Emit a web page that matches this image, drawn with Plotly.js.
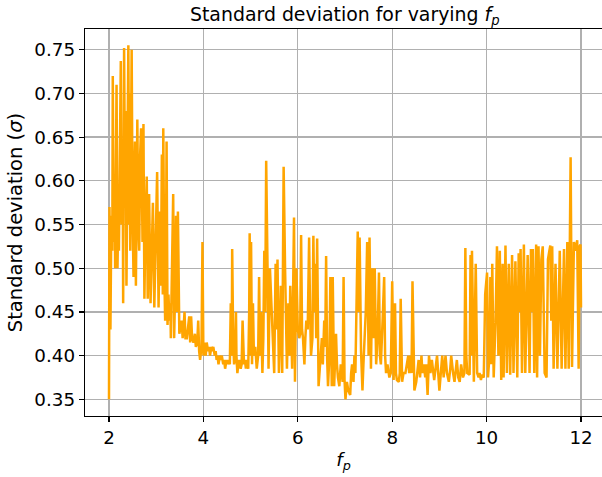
<!DOCTYPE html>
<html>
<head>
<meta charset="utf-8">
<script src="https://cdn.plot.ly/plotly-3.0.1.min.js"></script>
<style>html,body{margin:0;padding:0;background:#fff;}#chart{width:602px;height:477px;}</style>
</head>
<body>
<div id="chart"></div>
<script>
// f_p values (x) and standard deviation values (y)
const fp = [
  2.00,2.01,2.03,2.05,2.07,2.08,2.10,2.12,2.13,2.15,2.16,2.18,2.20,2.21,2.23,2.25,2.27,2.29,2.30,2.32,
  2.34,2.35,2.37,2.39,2.41,2.43,2.44,2.45,2.46,2.48,2.50,2.52,2.54,2.55,2.57,2.58,2.60,2.62,2.64,2.66,
  2.68,2.70,2.71,2.73,2.75,2.77,2.78,2.80,2.82,2.84,2.85,2.88,2.90,2.93,2.96,2.98,3.00,3.02,3.05,3.07,
  3.08,3.10,3.12,3.14,3.15,3.17,3.19,3.21,3.22,3.24,3.26,3.28,3.30,3.31,3.34,3.36,3.38,3.40,3.42,3.44,
  3.46,3.49,3.51,3.54,3.56,3.58,3.60,3.62,3.65,3.67,3.70,3.72,3.74,3.76,3.79,3.82,3.84,3.87,3.89,3.91,
  3.93,3.96,3.98,4.00,
  4.03,4.05,4.07,4.10,4.12,4.14,4.17,4.19,4.21,4.24,4.26,4.28,4.30,4.32,4.35,4.37,4.39,4.42,4.44,4.46,
  4.49,4.51,4.53,4.56,4.58,4.60,4.61,4.63,4.65,4.67,4.69,4.70,4.72,4.74,4.76,4.79,4.81,4.83,4.86,4.88,
  4.90,4.92,4.95,4.97,4.98,5.00,5.01,5.03,5.05,5.07,5.10,5.13,5.16,5.18,5.20,5.22,5.25,5.27,5.29,5.31,
  5.33,5.36,5.38,5.41,5.44,5.47,5.50,5.53,5.55,5.57,5.60,5.62,5.64,5.67,5.70,5.73,5.75,5.77,5.80,5.82,
  5.84,5.86,5.88,5.92,5.94,5.97,6.00,6.03,6.05,6.07,6.09,6.11,6.14,6.16,6.18,6.21,6.24,6.26,6.28,6.31,
  6.33,6.35,6.37,6.39,6.41,6.44,6.46,6.48,6.51,6.53,6.56,6.58,6.60,6.62,6.64,6.67,6.69,6.72,6.74,6.77,
  6.79,6.81,6.83,6.85,6.88,6.91,6.93,6.95,6.97,6.99,
  7.01,7.04,7.07,7.11,7.13,7.15,7.18,7.20,7.22,7.24,7.27,7.29,7.31,7.34,7.37,7.39,7.41,7.44,7.47,7.50,
  7.52,7.55,7.58,7.61,7.63,7.66,7.69,7.72,7.74,7.76,7.80,7.83,7.85,7.87,7.90,7.94,7.97,8.00,8.03,8.06,
  8.08,8.10,8.14,8.16,8.18,8.21,8.24,8.28,8.31,8.34,8.36,8.38,8.41,8.43,8.47,8.51,8.53,8.56,8.59,8.62,
  8.64,8.67,8.70,8.72,8.75,8.78,8.81,8.84,8.89,8.92,8.95,9.00,9.03,9.06,9.09,9.13,9.16,9.20,9.23,9.25,
  9.29,9.32,9.35,9.37,9.40,9.43,9.46,9.50,9.53,
  9.55,9.57,9.59,9.64,9.66,9.68,9.69,9.73,9.77,9.80,9.83,9.85,9.88,9.90,9.94,9.97,10.01,10.03,10.06,10.08,
  10.10,10.12,10.15,10.19,10.22,10.25,10.28,10.31,10.34,10.36,10.40,10.43,10.47,10.50,10.54,10.57,10.61,10.65,10.68,10.70,
  10.72,10.75,10.79,10.82,10.87,10.91,10.94,10.96,10.98,11.01,11.05,11.07,11.10,11.13,11.16,11.19,11.23,11.27,11.30,11.33,
  11.35,11.37,11.39,11.42,11.46,11.50,11.55,11.59,11.64,11.67,11.71,11.74,11.78,11.81,11.85,11.88,11.92,11.95,11.97,11.99,
  12.00
];
const sigma = [
  0.350,0.570,0.430,0.560,0.520,0.720,0.530,0.600,0.500,0.640,0.710,0.500,0.580,0.520,0.660,0.737,0.550,0.620,0.460,0.752,
  0.580,0.680,0.480,0.600,0.755,0.550,0.700,0.520,0.640,0.750,0.560,0.490,0.620,0.645,0.480,0.580,0.670,0.550,0.520,0.630,
  0.660,0.580,0.530,0.665,0.465,0.540,0.560,0.605,0.465,0.550,0.585,0.460,0.520,0.575,0.455,0.500,0.550,0.610,0.455,0.520,
  0.565,0.480,0.630,0.470,0.660,0.500,0.440,0.550,0.645,0.435,0.470,0.440,0.460,0.420,0.500,0.585,0.420,0.470,0.560,0.450,
  0.565,0.425,0.430,0.440,0.420,0.430,0.450,0.420,0.420,0.430,0.445,0.415,0.445,0.420,0.415,0.425,0.410,0.415,0.440,0.405,
  0.395,0.410,0.530,0.400,
  0.415,0.400,0.415,0.405,0.410,0.400,0.410,0.405,0.410,0.400,0.405,0.395,0.400,0.390,0.400,0.395,0.400,0.390,0.395,0.385,
  0.395,0.390,0.395,0.390,0.460,0.400,0.522,0.420,0.390,0.400,0.450,0.400,0.380,0.390,0.395,0.385,0.390,0.440,0.390,0.395,
  0.385,0.395,0.385,0.450,0.540,0.400,0.530,0.390,0.460,0.400,0.410,0.385,0.400,0.490,0.400,0.450,0.380,0.420,0.520,0.450,
  0.623,0.495,0.385,0.500,0.460,0.420,0.380,0.505,0.430,0.510,0.380,0.420,0.480,0.380,0.616,0.500,0.420,0.385,0.460,0.400,
  0.480,0.420,0.385,0.558,0.370,0.500,0.430,0.420,0.425,0.538,0.430,0.420,0.390,0.420,0.440,0.430,0.535,0.450,0.400,0.420,
  0.537,0.450,0.505,0.420,0.534,0.365,0.380,0.400,0.420,0.390,0.440,0.410,0.514,0.400,0.365,0.400,0.490,0.365,0.490,0.365,
  0.400,0.425,0.390,0.375,0.365,0.390,0.380,0.370,0.490,0.372,
  0.350,0.370,0.360,0.355,0.380,0.390,0.370,0.400,0.380,0.440,0.542,0.450,0.535,0.405,0.360,0.390,0.420,0.450,0.530,0.400,
  0.535,0.385,0.500,0.420,0.500,0.390,0.420,0.495,0.400,0.390,0.445,0.490,0.400,0.380,0.390,0.375,0.380,0.485,0.372,0.460,
  0.380,0.372,0.370,0.380,0.465,0.370,0.380,0.380,0.390,0.400,0.380,0.400,0.380,0.485,0.360,0.370,0.380,0.395,0.375,0.400,
  0.380,0.390,0.375,0.390,0.355,0.400,0.380,0.395,0.372,0.390,0.400,0.360,0.385,0.400,0.375,0.400,0.380,0.370,0.385,0.400,
  0.380,0.370,0.385,0.395,0.375,0.370,0.390,0.375,0.380,
  0.523,0.400,0.380,0.378,0.515,0.400,0.520,0.370,0.505,0.380,0.375,0.380,0.372,0.378,0.375,0.470,0.495,0.375,0.400,0.490,
  0.390,0.505,0.375,0.440,0.525,0.400,0.520,0.372,0.505,0.375,0.526,0.380,0.505,0.378,0.515,0.380,0.508,0.375,0.517,0.450,
  0.522,0.380,0.527,0.380,0.515,0.380,0.522,0.450,0.522,0.380,0.527,0.375,0.525,0.400,0.510,0.525,0.380,0.375,0.510,0.520,
  0.526,0.440,0.525,0.385,0.505,0.385,0.520,0.385,0.522,0.385,0.530,0.385,0.627,0.387,0.530,0.520,0.532,0.385,0.525,0.527,
  0.455
];
const xTicks = [2, 4, 6, 8, 10, 12];
const yTicks = [0.35, 0.40, 0.45, 0.50, 0.55, 0.60, 0.65, 0.70, 0.75];
const yTickText = ['0.35','0.40','0.45','0.50','0.55','0.60','0.65','0.70','0.75'];

const trace = {
  x: fp, y: sigma, type: 'scatter', mode: 'lines',
  line: {color: '#FFA500', width: 2.5},
  hoverinfo: 'skip'
};

const layout = {
  width: 602, height: 477,
  margin: {l: 85, r: 0, t: 29, b: 61, pad: 0},
  paper_bgcolor: '#ffffff', plot_bgcolor: '#ffffff',
  font: {family: 'DejaVu Sans', size: 18.3, color: '#000000'},
  showlegend: false,
  title: {
    text: 'Standard deviation for varying <i>f<sub>p</sub></i>',
    font: {family: 'DejaVu Sans', size: 18.9, color: '#000000'},
    xref: 'container', x: 344.8/602, xanchor: 'center',
    yref: 'container', y: 1 - 14/477, yanchor: 'middle'
  },
  xaxis: {
    range: [1.4915, 12.445],
    tickvals: xTicks,
    ticks: 'outside', ticklen: 5, tickwidth: 1.2, tickcolor: '#000000',
    showline: true, linecolor: '#000000', linewidth: 1.3, mirror: true,
    showgrid: true, gridcolor: '#b0b0b0', gridwidth: 1.3,
    zeroline: false,
    tickfont: {size: 18.3},
    title: {text: '<i>f<sub>p</sub></i>', font: {size: 18.3}, standoff: 6}
  },
  yaxis: {
    range: [0.3309, 0.7737],
    tickvals: yTicks, ticktext: yTickText,
    ticks: 'outside', ticklen: 5, tickwidth: 1.2, tickcolor: '#000000',
    showline: true, linecolor: '#000000', linewidth: 1.3, mirror: false,
    showgrid: true, gridcolor: '#b0b0b0', gridwidth: 1.3,
    zeroline: false,
    tickfont: {size: 18.3},
    title: {text: 'Standard deviation (<i>σ</i>)', font: {size: 19.5}, standoff: 6}
  }
};

Plotly.newPlot('chart', [trace], layout, {staticPlot: true, displayModeBar: false});
</script>
</body>
</html>
